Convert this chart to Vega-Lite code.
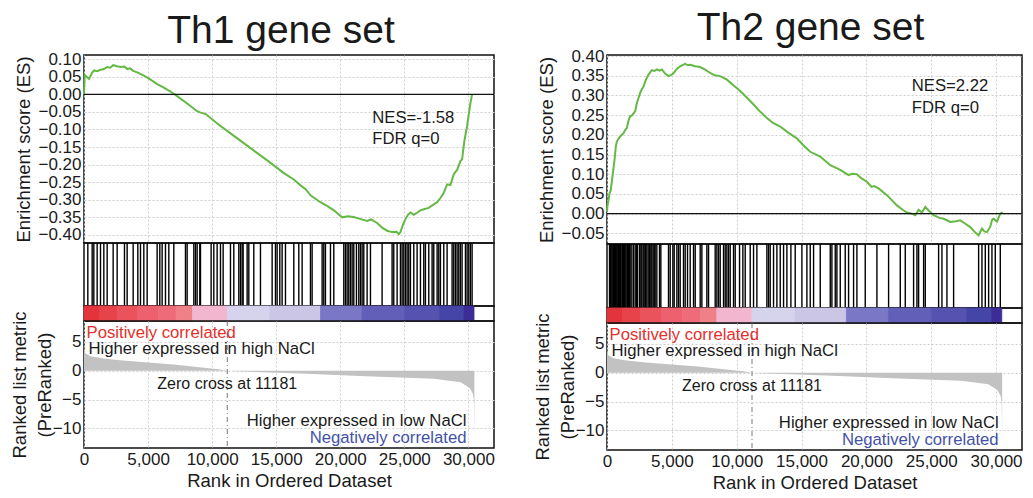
{
  "$schema": "https://vega.github.io/schema/vega-lite/v6.json",
  "background": "white",
  "padding": {"left": 9, "top": 8, "right": 5, "bottom": 5},
  "config": {
    "font": "Liberation Sans",
    "view": {"stroke": "#111", "strokeWidth": 1.5},
    "axis": {"labelFont": "Liberation Sans", "labelFontSize": 17, "labelColor": "#1a1a1a", "titleFont": "Liberation Sans", "titleFontSize": 18.5, "titleFontWeight": "normal", "titleColor": "#1a1a1a", "gridColor": "#cfcfcf", "gridDash": [2, 2], "gridWidth": 1, "ticks": false, "domain": false, "labelPadding": 3, "labelOverlap": false, "labelBound": false, "labelFlush": false, "titleLineHeight": 25, "tickCount": 20},
    "title": {"font": "Liberation Sans", "fontSize": 39, "fontWeight": "normal", "color": "#1a1a1a"}
  },
  "datasets": {
    "one": [{}],
    "es1": [
      {"rank": 0, "es": 0.0}, {"rank": 60, "es": 0.055}, {"rank": 200, "es": 0.05}, {"rank": 400, "es": 0.044}, {"rank": 640, "es": 0.062}, {"rank": 800, "es": 0.068}, {"rank": 1030, "es": 0.066}, {"rank": 1290, "es": 0.07}, {"rank": 1550, "es": 0.072}, {"rank": 1810, "es": 0.078}, {"rank": 2050, "es": 0.076}, {"rank": 2280, "es": 0.083}, {"rank": 2590, "es": 0.08}, {"rank": 2850, "es": 0.078}, {"rank": 3160, "es": 0.079}, {"rank": 3370, "es": 0.072}, {"rank": 3600, "es": 0.074}, {"rank": 3840, "es": 0.067}, {"rank": 4200, "es": 0.062}, {"rank": 4670, "es": 0.053}, {"rank": 5200, "es": 0.042}, {"rank": 5710, "es": 0.029}, {"rank": 6200, "es": 0.02}, {"rank": 6750, "es": 0.008}, {"rank": 7270, "es": -0.005}, {"rank": 8050, "es": -0.026}, {"rank": 8830, "es": -0.048}, {"rank": 9100, "es": -0.052}, {"rank": 9500, "es": -0.056}, {"rank": 10400, "es": -0.083}, {"rank": 11700, "es": -0.118}, {"rank": 13000, "es": -0.153}, {"rank": 14300, "es": -0.188}, {"rank": 15600, "es": -0.224}, {"rank": 16400, "es": -0.243}, {"rank": 16900, "es": -0.259}, {"rank": 17300, "es": -0.27}, {"rank": 17700, "es": -0.288}, {"rank": 18450, "es": -0.307}, {"rank": 19000, "es": -0.318}, {"rank": 19500, "es": -0.33}, {"rank": 20150, "es": -0.35}, {"rank": 20600, "es": -0.347}, {"rank": 21050, "es": -0.349}, {"rank": 21600, "es": -0.355}, {"rank": 22100, "es": -0.36}, {"rank": 22400, "es": -0.356}, {"rank": 22880, "es": -0.366}, {"rank": 23300, "es": -0.38}, {"rank": 23650, "es": -0.388}, {"rank": 24050, "es": -0.392}, {"rank": 24400, "es": -0.391}, {"rank": 24570, "es": -0.398}, {"rank": 24700, "es": -0.392}, {"rank": 24900, "es": -0.37}, {"rank": 25090, "es": -0.355}, {"rank": 25300, "es": -0.342}, {"rank": 25480, "es": -0.336}, {"rank": 25740, "es": -0.343}, {"rank": 26000, "es": -0.337}, {"rank": 26260, "es": -0.33}, {"rank": 26520, "es": -0.327}, {"rank": 26900, "es": -0.323}, {"rank": 27300, "es": -0.313}, {"rank": 27560, "es": -0.307}, {"rank": 27820, "es": -0.295}, {"rank": 28080, "es": -0.28}, {"rank": 28340, "es": -0.256}, {"rank": 28600, "es": -0.258}, {"rank": 28860, "es": -0.227}, {"rank": 29120, "es": -0.215}, {"rank": 29380, "es": -0.19}, {"rank": 29510, "es": -0.185}, {"rank": 29690, "es": -0.132}, {"rank": 29900, "es": -0.09}, {"rank": 30030, "es": -0.057}, {"rank": 30160, "es": -0.025}, {"rank": 30290, "es": 0.0}
    ],
    "es2": [
      {"rank": 0, "es": 0.005}, {"rank": 39, "es": 0.021}, {"rank": 120, "es": 0.035}, {"rank": 193, "es": 0.051}, {"rank": 290, "es": 0.06}, {"rank": 373, "es": 0.081}, {"rank": 480, "es": 0.11}, {"rank": 578, "es": 0.136}, {"rank": 680, "es": 0.17}, {"rank": 758, "es": 0.183}, {"rank": 880, "es": 0.19}, {"rank": 1016, "es": 0.196}, {"rank": 1150, "es": 0.2}, {"rank": 1273, "es": 0.204}, {"rank": 1400, "es": 0.212}, {"rank": 1530, "es": 0.217}, {"rank": 1650, "es": 0.235}, {"rank": 1787, "es": 0.247}, {"rank": 1950, "es": 0.25}, {"rank": 2172, "es": 0.26}, {"rank": 2300, "es": 0.28}, {"rank": 2430, "es": 0.294}, {"rank": 2600, "es": 0.31}, {"rank": 2816, "es": 0.323}, {"rank": 3000, "es": 0.34}, {"rank": 3201, "es": 0.353}, {"rank": 3458, "es": 0.364}, {"rank": 3650, "es": 0.362}, {"rank": 3844, "es": 0.366}, {"rank": 4050, "es": 0.363}, {"rank": 4230, "es": 0.366}, {"rank": 4500, "es": 0.355}, {"rank": 4743, "es": 0.349}, {"rank": 4950, "es": 0.352}, {"rank": 5129, "es": 0.356}, {"rank": 5400, "es": 0.368}, {"rank": 5643, "es": 0.374}, {"rank": 6029, "es": 0.38}, {"rank": 6200, "es": 0.377}, {"rank": 6415, "es": 0.378}, {"rank": 6800, "es": 0.374}, {"rank": 7186, "es": 0.372}, {"rank": 7600, "es": 0.365}, {"rank": 7957, "es": 0.357}, {"rank": 8300, "es": 0.351}, {"rank": 8729, "es": 0.349}, {"rank": 9243, "es": 0.34}, {"rank": 9700, "es": 0.327}, {"rank": 10271, "es": 0.311}, {"rank": 10800, "es": 0.294}, {"rank": 11300, "es": 0.277}, {"rank": 11800, "es": 0.259}, {"rank": 12328, "es": 0.243}, {"rank": 12800, "es": 0.23}, {"rank": 13357, "es": 0.221}, {"rank": 14000, "es": 0.205}, {"rank": 14642, "es": 0.191}, {"rank": 15100, "es": 0.175}, {"rank": 15671, "es": 0.157}, {"rank": 16442, "es": 0.145}, {"rank": 17214, "es": 0.123}, {"rank": 17985, "es": 0.111}, {"rank": 18628, "es": 0.098}, {"rank": 18900, "es": 0.101}, {"rank": 19270, "es": 0.1}, {"rank": 19600, "es": 0.09}, {"rank": 20042, "es": 0.081}, {"rank": 20400, "es": 0.068}, {"rank": 20600, "es": 0.07}, {"rank": 20942, "es": 0.064}, {"rank": 21584, "es": 0.047}, {"rank": 22356, "es": 0.021}, {"rank": 22800, "es": 0.01}, {"rank": 23127, "es": 0.003}, {"rank": 23500, "es": 0.0}, {"rank": 23770, "es": -0.004}, {"rank": 24027, "es": 0.01}, {"rank": 24284, "es": 0.003}, {"rank": 24541, "es": 0.017}, {"rank": 24800, "es": 0.008}, {"rank": 25184, "es": -0.004}, {"rank": 25600, "es": -0.01}, {"rank": 25955, "es": -0.013}, {"rank": 26469, "es": -0.021}, {"rank": 26900, "es": -0.019}, {"rank": 27240, "es": -0.017}, {"rank": 27600, "es": -0.025}, {"rank": 28012, "es": -0.034}, {"rank": 28400, "es": -0.048}, {"rank": 28655, "es": -0.055}, {"rank": 28912, "es": -0.038}, {"rank": 29100, "es": -0.045}, {"rank": 29298, "es": -0.047}, {"rank": 29555, "es": -0.033}, {"rank": 29700, "es": -0.015}, {"rank": 29812, "es": -0.013}, {"rank": 30069, "es": -0.02}, {"rank": 30326, "es": 0.0}, {"rank": 30506, "es": 0.004}
    ],
    "hits1": [
      {"rank": 299}, {"rank": 637}, {"rank": 767}, {"rank": 1027}, {"rank": 1288}, {"rank": 1548}, {"rank": 1808}, {"rank": 2276}, {"rank": 2588}, {"rank": 3160}, {"rank": 3368}, {"rank": 3837}, {"rank": 4201}, {"rank": 4409}, {"rank": 4669}, {"rank": 4929}, {"rank": 5709}, {"rank": 5917}, {"rank": 6099}, {"rank": 6359}, {"rank": 6620}, {"rank": 7010}, {"rank": 7920}, {"rank": 8051}, {"rank": 8571}, {"rank": 8701}, {"rank": 8831}, {"rank": 9039}, {"rank": 9091}, {"rank": 9923}, {"rank": 10131}, {"rank": 10392}, {"rank": 10652}, {"rank": 10860}, {"rank": 11432}, {"rank": 11692}, {"rank": 12082}, {"rank": 12212}, {"rank": 12342}, {"rank": 12420}, {"rank": 12733}, {"rank": 12863}, {"rank": 13253}, {"rank": 13773}, {"rank": 14684}, {"rank": 14944}, {"rank": 15074}, {"rank": 15282}, {"rank": 15464}, {"rank": 15724}, {"rank": 16375}, {"rank": 16765}, {"rank": 17025}, {"rank": 17675}, {"rank": 17805}, {"rank": 18585}, {"rank": 18715}, {"rank": 18845}, {"rank": 19236}, {"rank": 19496}, {"rank": 20276}, {"rank": 20406}, {"rank": 20536}, {"rank": 20666}, {"rank": 20796}, {"rank": 20926}, {"rank": 21056}, {"rank": 21264}, {"rank": 21446}, {"rank": 21576}, {"rank": 21706}, {"rank": 21836}, {"rank": 22097}, {"rank": 22357}, {"rank": 23267}, {"rank": 24047}, {"rank": 24177}, {"rank": 24438}, {"rank": 24698}, {"rank": 24828}, {"rank": 24958}, {"rank": 25088}, {"rank": 25218}, {"rank": 25348}, {"rank": 25478}, {"rank": 25739}, {"rank": 25999}, {"rank": 26259}, {"rank": 26519}, {"rank": 26649}, {"rank": 26909}, {"rank": 27169}, {"rank": 27299}, {"rank": 27560}, {"rank": 27690}, {"rank": 27820}, {"rank": 28080}, {"rank": 28340}, {"rank": 28730}, {"rank": 28860}, {"rank": 28990}, {"rank": 29120}, {"rank": 29250}, {"rank": 29380}, {"rank": 29510}, {"rank": 29771}, {"rank": 29901}, {"rank": 30031}, {"rank": 30161}, {"rank": 30291}
    ],
    "hits2": [
      {"rank": 193}, {"rank": 244}, {"rank": 296}, {"rank": 373}, {"rank": 450}, {"rank": 500}, {"rank": 578}, {"rank": 642}, {"rank": 707}, {"rank": 771}, {"rank": 836}, {"rank": 900}, {"rank": 964}, {"rank": 1040}, {"rank": 1144}, {"rank": 1208}, {"rank": 1273}, {"rank": 1350}, {"rank": 1400}, {"rank": 1478}, {"rank": 1581}, {"rank": 1655}, {"rank": 1722}, {"rank": 1787}, {"rank": 1915}, {"rank": 2043}, {"rank": 2172}, {"rank": 2275}, {"rank": 2352}, {"rank": 2507}, {"rank": 2610}, {"rank": 2687}, {"rank": 2790}, {"rank": 2867}, {"rank": 2970}, {"rank": 3072}, {"rank": 3175}, {"rank": 3278}, {"rank": 3380}, {"rank": 3458}, {"rank": 3560}, {"rank": 3638}, {"rank": 3715}, {"rank": 3844}, {"rank": 4049}, {"rank": 4152}, {"rank": 4743}, {"rank": 4872}, {"rank": 5078}, {"rank": 5181}, {"rank": 5386}, {"rank": 5515}, {"rank": 5643}, {"rank": 5900}, {"rank": 6029}, {"rank": 6209}, {"rank": 6415}, {"rank": 6672}, {"rank": 6801}, {"rank": 7186}, {"rank": 7315}, {"rank": 7700}, {"rank": 7829}, {"rank": 8343}, {"rank": 8472}, {"rank": 8601}, {"rank": 8729}, {"rank": 8986}, {"rank": 9114}, {"rank": 9243}, {"rank": 9372}, {"rank": 9500}, {"rank": 9757}, {"rank": 9886}, {"rank": 10220}, {"rank": 10477}, {"rank": 10657}, {"rank": 11043}, {"rank": 11300}, {"rank": 11557}, {"rank": 12328}, {"rank": 12457}, {"rank": 12585}, {"rank": 12842}, {"rank": 13100}, {"rank": 13357}, {"rank": 13614}, {"rank": 13871}, {"rank": 14179}, {"rank": 14513}, {"rank": 15028}, {"rank": 15414}, {"rank": 15671}, {"rank": 15928}, {"rank": 16442}, {"rank": 17214}, {"rank": 17342}, {"rank": 17599}, {"rank": 17728}, {"rank": 17985}, {"rank": 18370}, {"rank": 18628}, {"rank": 19013}, {"rank": 19270}, {"rank": 19913}, {"rank": 20813}, {"rank": 21713}, {"rank": 22613}, {"rank": 22999}, {"rank": 23641}, {"rank": 23898}, {"rank": 24027}, {"rank": 24413}, {"rank": 24541}, {"rank": 25570}, {"rank": 25827}, {"rank": 26212}, {"rank": 26727}, {"rank": 28655}, {"rank": 28912}, {"rank": 29169}, {"rank": 29426}, {"rank": 29683}, {"rank": 29940}, {"rank": 30326}
    ],
    "bar": [
      {"start": 0, "end": 1200, "bin": "b01"}, {"start": 1200, "end": 2600, "bin": "b02"}, {"start": 2600, "end": 4200, "bin": "b03"}, {"start": 4200, "end": 5800, "bin": "b04"}, {"start": 5800, "end": 7200, "bin": "b05"}, {"start": 7200, "end": 8470, "bin": "b06"}, {"start": 8470, "end": 11181, "bin": "b07"}, {"start": 11181, "end": 14500, "bin": "b08"}, {"start": 14500, "end": 18460, "bin": "b09"}, {"start": 18460, "end": 21700, "bin": "b10"}, {"start": 21700, "end": 25000, "bin": "b11"}, {"start": 25000, "end": 27730, "bin": "b12"}, {"start": 27730, "end": 29660, "bin": "b13"}, {"start": 29660, "end": 30440, "bin": "b14"}
    ],
    "ranked": [
      {"rank": 0, "metric": 4.0}, {"rank": 100, "metric": 3.0}, {"rank": 500, "metric": 2.5}, {"rank": 1500, "metric": 2.1}, {"rank": 3000, "metric": 1.75}, {"rank": 5000, "metric": 1.4}, {"rank": 7000, "metric": 1.05}, {"rank": 9000, "metric": 0.6}, {"rank": 10500, "metric": 0.25}, {"rank": 11181, "metric": 0.0}, {"rank": 13000, "metric": -0.2}, {"rank": 16900, "metric": -0.5}, {"rank": 22000, "metric": -0.95}, {"rank": 27300, "metric": -1.4}, {"rank": 29400, "metric": -2.0}, {"rank": 30100, "metric": -3.0}, {"rank": 30350, "metric": -4.0}, {"rank": 30420, "metric": -5.0}, {"rank": 30450, "metric": -7.0}, {"rank": 30470, "metric": -12.6}
    ]
  },
  "hconcat": [
    {
      "spacing": 0,
      "bounds": "flush",
      "vconcat": [
        {
          "width": 410, "height": 188,
          "title": {"text": "Th1 gene set", "dx": -8, "offset": -1},
          "layer": [
            {"data": {"name": "es1"}, "mark": {"type": "line", "color": "#64b844", "strokeWidth": 2},
             "encoding": {
               "x": {"field": "rank", "type": "quantitative", "scale": {"domain": [0, 32000], "nice": false}, "axis": {"values": [0, 5000, 10000, 15000, 20000, 25000, 30000], "tickCount": 20, "labels": false, "grid": true, "title": null}},
               "y": {"field": "es", "type": "quantitative", "scale": {"domain": [-0.423, 0.112], "nice": false, "zero": false}, "axis": {"values": [0.1, 0.05, 0, -0.05, -0.1, -0.15, -0.2, -0.25, -0.3, -0.35, -0.4], "tickCount": 20, "format": ".2f", "grid": true, "labelOverlap": false, "title": "Enrichment score (ES)", "titlePadding": 4}}
             }},
            {"data": {"name": "one"}, "mark": {"type": "rule", "color": "#111", "strokeWidth": 1.2}, "encoding": {"y": {"datum": 0}}},
            {"data": {"name": "one"}, "mark": {"type": "text", "text": "NES=-1.58", "align": "left", "baseline": "middle", "fontSize": 16.7, "color": "#1a1a1a"}, "encoding": {"x": {"datum": 22500}, "y": {"datum": -0.067}}},
            {"data": {"name": "one"}, "mark": {"type": "text", "text": "FDR q=0", "align": "left", "baseline": "middle", "fontSize": 16.7, "color": "#1a1a1a"}, "encoding": {"x": {"datum": 22500}, "y": {"datum": -0.127}}}
          ]
        },
        {
          "width": 410, "height": 63,
          "data": {"name": "hits1"},
          "mark": {"type": "rule", "color": "#000", "strokeWidth": 1.4},
          "encoding": {"x": {"field": "rank", "type": "quantitative", "scale": {"domain": [0, 32000], "nice": false}, "axis": null}}
        },
        {
          "width": 410, "height": 15,
          "data": {"name": "bar"},
          "mark": {"type": "rect", "strokeWidth": 0.8},
          "encoding": {
            "x": {"field": "start", "type": "quantitative", "scale": {"domain": [0, 32000], "nice": false}, "axis": null},
            "x2": {"field": "end"},
            "color": {"field": "bin", "type": "nominal", "legend": null, "scale": {"domain": ["b01","b02","b03","b04","b05","b06","b07","b08","b09","b10","b11","b12","b13","b14"], "range": ["#e3333b","#e7434b","#ea535c","#ed606e","#ee6c7a","#f08088","#f2b6cf","#d6d3ed","#cbc6e6","#7a78c6","#625fb8","#5653b0","#4545a8","#3c2c98"]}},
            "stroke": {"field": "bin", "type": "nominal", "legend": null, "scale": {"domain": ["b01","b02","b03","b04","b05","b06","b07","b08","b09","b10","b11","b12","b13","b14"], "range": ["#e3333b","#e7434b","#ea535c","#ed606e","#ee6c7a","#f08088","#f2b6cf","#d6d3ed","#cbc6e6","#7a78c6","#625fb8","#5653b0","#4545a8","#3c2c98"]}}
          }
        },
        {
          "width": 410, "height": 127,
          "layer": [
            {"data": {"name": "ranked"}, "mark": {"type": "area", "color": "#c2c2c2"},
             "encoding": {
               "x": {"field": "rank", "type": "quantitative", "scale": {"domain": [0, 32000], "nice": false}, "axis": {"values": [0, 5000, 10000, 15000, 20000, 25000, 30000], "tickCount": 20, "format": ",.0f", "grid": true, "title": "Rank in Ordered Dataset", "titlePadding": 4}},
               "y": {"field": "metric", "type": "quantitative", "scale": {"domain": [-13.4, 8.6], "nice": false, "zero": false}, "axis": {"values": [5, 0, -5, -10], "tickCount": 20, "grid": true, "labelOverlap": false, "title": ["Ranked list metric", "(PreRanked)"], "titlePadding": -2}},
               "y2": {"datum": 0}
             }},
            {"data": {"name": "one"}, "mark": {"type": "rule", "color": "#777", "strokeWidth": 1, "strokeDash": [5, 3, 1, 3]}, "encoding": {"x": {"datum": 11181}}},
            {"data": {"name": "one"}, "mark": {"type": "text", "text": "Positively correlated", "align": "left", "baseline": "middle", "fontSize": 16.7, "color": "#e3302c"}, "encoding": {"x": {"datum": 200}, "y": {"datum": 6.6}}},
            {"data": {"name": "one"}, "mark": {"type": "text", "text": "Higher expressed in high NaCl", "align": "left", "baseline": "middle", "fontSize": 16.7, "color": "#1a1a1a"}, "encoding": {"x": {"datum": 350}, "y": {"datum": 3.7}}},
            {"data": {"name": "one"}, "mark": {"type": "text", "text": "Zero cross at 11181", "align": "center", "baseline": "middle", "fontSize": 16, "color": "#1a1a1a"}, "encoding": {"x": {"datum": 11181}, "y": {"datum": -2.3}}},
            {"data": {"name": "one"}, "mark": {"type": "text", "text": "Higher expressed in low NaCl", "align": "right", "baseline": "middle", "fontSize": 16.7, "color": "#1a1a1a"}, "encoding": {"x": {"datum": 29850}, "y": {"datum": -8.7}}},
            {"data": {"name": "one"}, "mark": {"type": "text", "text": "Negatively correlated", "align": "right", "baseline": "middle", "fontSize": 16.7, "color": "#4352a8"}, "encoding": {"x": {"datum": 29850}, "y": {"datum": -11.7}}}
          ]
        }
      ]
    },
    {
      "spacing": 0,
      "bounds": "flush",
      "vconcat": [
        {
          "width": 415, "height": 189,
          "title": {"text": "Th2 gene set", "dx": -4, "offset": -1},
          "layer": [
            {"data": {"name": "es2"}, "mark": {"type": "line", "color": "#64b844", "strokeWidth": 2},
             "encoding": {
               "x": {"field": "rank", "type": "quantitative", "scale": {"domain": [0, 32000], "nice": false}, "axis": {"values": [0, 5000, 10000, 15000, 20000, 25000, 30000], "tickCount": 20, "labels": false, "grid": true, "title": null}},
               "y": {"field": "es", "type": "quantitative", "scale": {"domain": [-0.077, 0.4026], "nice": false, "zero": false}, "axis": {"values": [0.4, 0.35, 0.3, 0.25, 0.2, 0.15, 0.1, 0.05, 0, -0.05], "tickCount": 20, "format": ".2f", "grid": true, "labelOverlap": false, "title": "Enrichment score (ES)", "titlePadding": 4}}
             }},
            {"data": {"name": "one"}, "mark": {"type": "rule", "color": "#111", "strokeWidth": 1.2}, "encoding": {"y": {"datum": 0}}},
            {"data": {"name": "one"}, "mark": {"type": "text", "text": "NES=2.22", "align": "left", "baseline": "middle", "fontSize": 16.7, "color": "#1a1a1a"}, "encoding": {"x": {"datum": 23500}, "y": {"datum": 0.323}}},
            {"data": {"name": "one"}, "mark": {"type": "text", "text": "FDR q=0", "align": "left", "baseline": "middle", "fontSize": 16.7, "color": "#1a1a1a"}, "encoding": {"x": {"datum": 23500}, "y": {"datum": 0.268}}}
          ]
        },
        {
          "width": 415, "height": 64,
          "data": {"name": "hits2"},
          "mark": {"type": "rule", "color": "#000", "strokeWidth": 1.4},
          "encoding": {"x": {"field": "rank", "type": "quantitative", "scale": {"domain": [0, 32000], "nice": false}, "axis": null}}
        },
        {
          "width": 415, "height": 15,
          "data": {"name": "bar"},
          "mark": {"type": "rect", "strokeWidth": 0.8},
          "encoding": {
            "x": {"field": "start", "type": "quantitative", "scale": {"domain": [0, 32000], "nice": false}, "axis": null},
            "x2": {"field": "end"},
            "color": {"field": "bin", "type": "nominal", "legend": null, "scale": {"domain": ["b01","b02","b03","b04","b05","b06","b07","b08","b09","b10","b11","b12","b13","b14"], "range": ["#e3333b","#e7434b","#ea535c","#ed606e","#ee6c7a","#f08088","#f2b6cf","#d6d3ed","#cbc6e6","#7a78c6","#625fb8","#5653b0","#4545a8","#3c2c98"]}},
            "stroke": {"field": "bin", "type": "nominal", "legend": null, "scale": {"domain": ["b01","b02","b03","b04","b05","b06","b07","b08","b09","b10","b11","b12","b13","b14"], "range": ["#e3333b","#e7434b","#ea535c","#ed606e","#ee6c7a","#f08088","#f2b6cf","#d6d3ed","#cbc6e6","#7a78c6","#625fb8","#5653b0","#4545a8","#3c2c98"]}}
          }
        },
        {
          "width": 415, "height": 127,
          "layer": [
            {"data": {"name": "ranked"}, "mark": {"type": "area", "color": "#c2c2c2"},
             "encoding": {
               "x": {"field": "rank", "type": "quantitative", "scale": {"domain": [0, 32000], "nice": false}, "axis": {"values": [0, 5000, 10000, 15000, 20000, 25000, 30000], "tickCount": 20, "format": ",.0f", "grid": true, "title": "Rank in Ordered Dataset", "titlePadding": 4}},
               "y": {"field": "metric", "type": "quantitative", "scale": {"domain": [-13.4, 8.6], "nice": false, "zero": false}, "axis": {"values": [5, 0, -5, -10], "tickCount": 20, "grid": true, "labelOverlap": false, "title": ["Ranked list metric", "(PreRanked)"], "titlePadding": -2}},
               "y2": {"datum": 0}
             }},
            {"data": {"name": "one"}, "mark": {"type": "rule", "color": "#777", "strokeWidth": 1, "strokeDash": [5, 3, 1, 3]}, "encoding": {"x": {"datum": 11181}}},
            {"data": {"name": "one"}, "mark": {"type": "text", "text": "Positively correlated", "align": "left", "baseline": "middle", "fontSize": 16.7, "color": "#e3302c"}, "encoding": {"x": {"datum": 200}, "y": {"datum": 6.6}}},
            {"data": {"name": "one"}, "mark": {"type": "text", "text": "Higher expressed in high NaCl", "align": "left", "baseline": "middle", "fontSize": 16.7, "color": "#1a1a1a"}, "encoding": {"x": {"datum": 350}, "y": {"datum": 3.7}}},
            {"data": {"name": "one"}, "mark": {"type": "text", "text": "Zero cross at 11181", "align": "center", "baseline": "middle", "fontSize": 16, "color": "#1a1a1a"}, "encoding": {"x": {"datum": 11181}, "y": {"datum": -2.3}}},
            {"data": {"name": "one"}, "mark": {"type": "text", "text": "Higher expressed in low NaCl", "align": "right", "baseline": "middle", "fontSize": 16.7, "color": "#1a1a1a"}, "encoding": {"x": {"datum": 30200}, "y": {"datum": -8.7}}},
            {"data": {"name": "one"}, "mark": {"type": "text", "text": "Negatively correlated", "align": "right", "baseline": "middle", "fontSize": 16.7, "color": "#4352a8"}, "encoding": {"x": {"datum": 30200}, "y": {"datum": -11.7}}}
          ]
        }
      ]
    }
  ],
  "spacing": 36
}
